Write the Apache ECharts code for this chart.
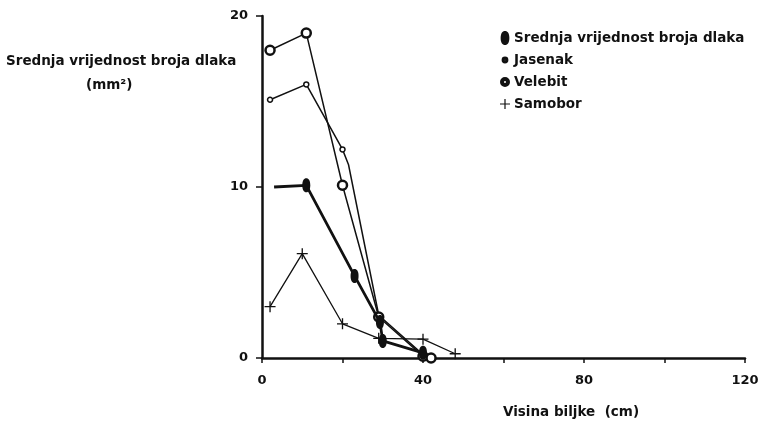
<!DOCTYPE html>
<html>
<head>
<meta charset="utf-8">
<script src="https://cdn.jsdelivr.net/npm/echarts@6/dist/echarts.min.js"></script>
<style>
  html, body { margin: 0; padding: 0; background: #fff; }
  #main { width: 762px; height: 425px; }
</style>
</head>
<body>
<div id="main"></div>
<script>
// podaci ocitani sa slike: [visina (cm), broj dlaka]
var srednja = [[3, 10], [11, 10.1], [23, 4.8], [29.3, 2.1], [30, 1.0], [40, 0.3]];
var jasenak = [[2, 15.1], [11, 16], [20, 12.2], [21.5, 11.3], [29, 2.5], [40, 0.2]];
var velebit = [[2, 18], [11, 19], [20, 10.1], [29, 2.4], [40, 0.1], [42, 0]];
var samobor = [[2, 3], [10, 6.1], [20, 2.0], [29, 1.15], [40, 1.1], [48, 0.25]];
var xLabels = [0, 40, 80, 120];
var yLabels = [0, 10, 20];

var font = '"DejaVu Sans", Verdana, sans-serif';
var ink = '#111';
var plus = 'path://M4.4,0H5.6V4.4H10V5.6H5.6V10H4.4V5.6H0V4.4H4.4Z';
var oval = 'path://M5,0C8,0 10,3 10,8C10,13 8,16 5,16C2,16 0,13 0,8C0,3 2,0 5,0Z';
// ikone legende s praznim rubom (M0,0Z / M10,10Z samo siri okvir)
var ringSmall = 'path://M0,0ZM10,10ZM5,2.6A2.4,2.4 0 1,0 5,7.4A2.4,2.4 0 1,0 5,2.6ZM5,3.7A1.3,1.3 0 1,1 5,6.3A1.3,1.3 0 1,1 5,3.7Z';
var ringBig = 'path://M0,0ZM10,10ZM5,1A4,4 0 1,0 5,9A4,4 0 1,0 5,1ZM5,3A2,2 0 1,1 5,7A2,2 0 1,1 5,3Z';

var chartDom = document.getElementById('main');
var myChart = echarts.init(chartDom);
var option;

option = {
  animation: false,
  grid: { left: 262, right: 17, top: 16, bottom: 67 },
  xAxis: {
    type: 'value', min: 0, max: 120, interval: 20,
    splitLine: { show: false },
    axisLine: { lineStyle: { color: ink, width: 2.5 } },
    axisTick: { length: 5, lineStyle: { color: ink, width: 1.5 } },
    axisLabel: {
      margin: 16, color: ink, fontFamily: font, fontWeight: 'bold', fontSize: 13,
      formatter: function (v) { return xLabels.indexOf(v) >= 0 ? String(v) : ''; }
    }
  },
  yAxis: {
    type: 'value', min: 0, max: 20, interval: 10,
    splitLine: { show: false },
    axisLine: { show: true, lineStyle: { color: ink, width: 2.5 } },
    axisTick: { show: true, length: 6, lineStyle: { color: ink, width: 1.5 } },
    axisLabel: {
      margin: 14, color: ink, fontFamily: font, fontWeight: 'bold', fontSize: 13,
      formatter: function (v) { return yLabels.indexOf(v) >= 0 ? String(v) : ''; }
    }
  },
  legend: {
    orient: 'vertical', left: 494, top: 26, itemGap: 8, itemWidth: 10, itemHeight: 14,
    textStyle: { color: ink, fontFamily: font, fontWeight: 'bold', fontSize: 13.5, padding: [0, 0, 0, -1] },
    data: [
      { name: 'Srednja vrijednost broja dlaka', icon: oval, itemStyle: { color: ink } },
      { name: 'Jasenak', icon: ringSmall, itemStyle: { color: ink } },
      { name: 'Velebit', icon: ringBig, itemStyle: { color: ink } },
      { name: 'Samobor', icon: plus, itemStyle: { color: ink } }
    ]
  },
  graphic: [
    { type: 'text', left: 6, top: 54, style: { text: 'Srednja vrijednost broja dlaka', fill: ink, font: 'bold 13.5px ' + font } },
    { type: 'text', left: 86, top: 78, style: { text: '(mm²)', fill: ink, font: 'bold 13.5px ' + font } },
    { type: 'text', left: 503, top: 405, style: { text: 'Visina biljke  (cm)', fill: ink, font: 'bold 13.5px ' + font } }
  ],
  series: [
    {
      name: 'Srednja vrijednost broja dlaka', type: 'line',
      data: srednja.map(function (p, i) { return i === 0 ? { value: p, symbol: 'none' } : p; }),
      symbol: oval, symbolSize: [8, 14],
      lineStyle: { color: ink, width: 2.8 }, itemStyle: { color: ink }, z: 5
    },
    {
      name: 'Jasenak', type: 'line',
      symbol: 'circle', symbolSize: 5,
      data: jasenak.map(function (p, i) { return i === 3 ? { value: p, symbol: 'none' } : p; }),
      lineStyle: { color: ink, width: 1.5 }, itemStyle: { color: '#fff', borderColor: ink, borderWidth: 1.5 }
    },
    {
      name: 'Velebit', type: 'line', data: velebit,
      symbol: 'circle', symbolSize: 9,
      lineStyle: { color: ink, width: 1.5 }, itemStyle: { color: '#fff', borderColor: ink, borderWidth: 2.5 }
    },
    {
      name: 'Samobor', type: 'line', data: samobor,
      symbol: plus, symbolSize: 11,
      lineStyle: { color: ink, width: 1.3 }, itemStyle: { color: ink }
    }
  ]
};

option && myChart.setOption(option);
</script>
</body>
</html>
